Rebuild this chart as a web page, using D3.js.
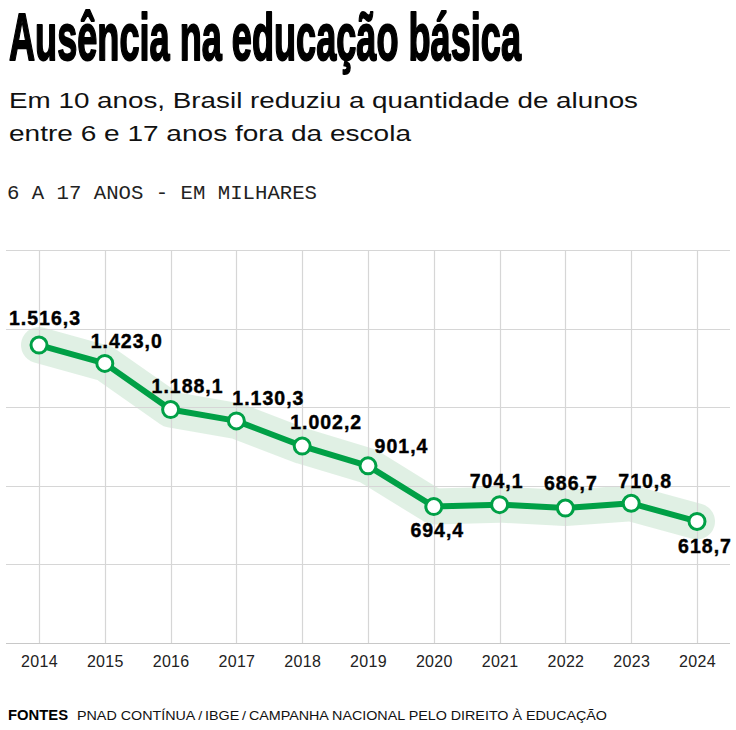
<!DOCTYPE html>
<html>
<head>
<meta charset="utf-8">
<script src="https://cdn.jsdelivr.net/npm/d3@7"></script>
<style>
  html, body { margin: 0; padding: 0; background: #fff; }
  svg { display: block; }
</style>
</head>
<body>
<svg id="chart" width="736" height="730"></svg>
<script>
// ---- data ----
const years = [2014, 2015, 2016, 2017, 2018, 2019, 2020, 2021, 2022, 2023, 2024];
const values = [1516.3, 1423.0, 1188.1, 1130.3, 1002.2, 901.4, 694.4, 704.1, 686.7, 710.8, 618.7];
const valueLabels = ["1.516,3", "1.423,0", "1.188,1", "1.130,3", "1.002,2", "901,4", "694,4", "704,1", "686,7", "710,8", "618,7"];
const yTicks = [0, 400, 800, 1200, 1600, 2000];

// ---- layout for labels (offsets from point, px) ----
const labelDx = [6, 22, 17, 32, 24, 33.5, 3.5, -3, 5.5, 14, 8];
const labelDy = [-20, -15.5, -16.5, -16, -17, -13, 30.5, -16.5, -18, -15, 31.5];

const svg = d3.select("#chart");
const x = d3.scaleLinear().domain([2014, 2024]).range([39, 697]);
const y = d3.scaleLinear().domain([0, 2000]).range([643, 250]);

// title: condensed look via vertical stretch
svg.append("text")
  .attr("transform", "translate(9,60) scale(1,1.5)")
  .attr("font-family", "'Liberation Sans Narrow', 'Liberation Sans', Arial, sans-serif")
  .attr("font-weight", 700).attr("font-size", 44)
  .attr("textLength", 512).attr("lengthAdjust", "spacingAndGlyphs")
  .attr("fill", "#000")
  .attr("stroke", "#000").attr("stroke-width", 1.3).attr("stroke-linejoin", "round")
  .text("Ausência na educação básica");

const sub = ["Em 10 anos, Brasil reduziu a quantidade de alunos", "entre 6 e 17 anos fora da escola"];
const subLen = [629, 402];
sub.forEach((s, i) => {
  svg.append("text")
    .attr("x", 9).attr("y", 108 + i * 33)
    .attr("font-family", "'Liberation Sans', Arial, sans-serif")
    .attr("font-size", 21.5)
    .attr("textLength", subLen[i]).attr("lengthAdjust", "spacingAndGlyphs")
    .attr("fill", "#111")
    .text(s);
});

svg.append("text")
  .attr("x", 7).attr("y", 199)
  .attr("font-family", "'Liberation Mono', 'DejaVu Sans Mono', monospace")
  .attr("font-size", 19.5)
  .attr("textLength", 310).attr("lengthAdjust", "spacingAndGlyphs")
  .attr("fill", "#222")
  .text("6 A 17 ANOS - EM MILHARES");

const g = svg.append("g");
const line = d3.line().x((d, i) => x(years[i])).y(d => y(d));

// halo (behind grid)
g.append("path")
  .datum(values)
  .attr("d", line)
  .attr("fill", "none")
  .attr("stroke", "#2e9a4a")
  .attr("stroke-opacity", 0.15)
  .attr("stroke-width", 36)
  .attr("stroke-linecap", "round")
  .attr("stroke-linejoin", "round");

// gridlines
g.selectAll("line.h").data(yTicks).join("line")
  .attr("class", "h")
  .attr("x1", 6).attr("x2", 730)
  .attr("y1", d => Math.round(y(d)) + 0.5).attr("y2", d => Math.round(y(d)) + 0.5)
  .attr("stroke", d => d === 0 ? "#c8c8c8" : "#d6d6d6")
  .attr("stroke-width", 1.2);

g.selectAll("line.v").data(years).join("line")
  .attr("class", "v")
  .attr("x1", d => Math.round(x(d)) + 0.5).attr("x2", d => Math.round(x(d)) + 0.5)
  .attr("y1", y(2000)).attr("y2", y(0))
  .attr("stroke", "#d6d6d6")
  .attr("stroke-width", 1.2);

// x axis labels
const xAxis = d3.axisBottom(x).tickValues(years).tickFormat(d3.format("d")).tickSize(0).tickPadding(0);
const ax = svg.append("g").attr("transform", `translate(0,${y(0)})`).call(xAxis);
ax.select(".domain").remove();
ax.selectAll("text")
  .attr("dy", 0).attr("y", 24)
  .attr("font-family", "'Liberation Sans', Arial, sans-serif")
  .attr("font-size", 16)
  .attr("letter-spacing", 0.3)
  .attr("fill", "#222");

// main line
g.append("path")
  .datum(values)
  .attr("d", line)
  .attr("fill", "none")
  .attr("stroke", "#00a046")
  .attr("stroke-width", 6)
  .attr("stroke-linejoin", "round");

g.selectAll("circle").data(values).join("circle")
  .attr("cx", (d, i) => x(years[i]))
  .attr("cy", d => y(d))
  .attr("r", 8)
  .attr("fill", "#fff")
  .attr("stroke", "#00a046")
  .attr("stroke-width", 3);

g.selectAll("text.val").data(values).join("text")
  .attr("class", "val")
  .attr("x", (d, i) => x(years[i]) + labelDx[i])
  .attr("y", (d, i) => y(d) + labelDy[i])
  .attr("text-anchor", "middle")
  .attr("font-family", "'Liberation Sans', Arial, sans-serif")
  .attr("font-weight", 700)
  .attr("font-size", 19.5)
  .attr("letter-spacing", 1)
  .attr("fill", "#000")
  .attr("stroke", "#000").attr("stroke-width", 0.4)
  .text((d, i) => valueLabels[i]);

// footer
svg.append("text")
  .attr("x", 8).attr("y", 720)
  .attr("font-family", "'Liberation Sans', Arial, sans-serif")
  .attr("font-weight", 700).attr("font-size", 14)
  .attr("textLength", 60).attr("lengthAdjust", "spacingAndGlyphs")
  .attr("fill", "#000")
  .text("FONTES");
svg.append("text")
  .attr("x", 77).attr("y", 720)
  .attr("font-family", "'Liberation Sans', Arial, sans-serif")
  .attr("font-size", 13.5)
  .attr("textLength", 530).attr("lengthAdjust", "spacingAndGlyphs")
  .attr("fill", "#111")
  .text("PNAD CONTÍNUA\u2009/\u2009IBGE\u2009/\u2009CAMPANHA NACIONAL PELO DIREITO À EDUCAÇÃO");
</script>
</body>
</html>
